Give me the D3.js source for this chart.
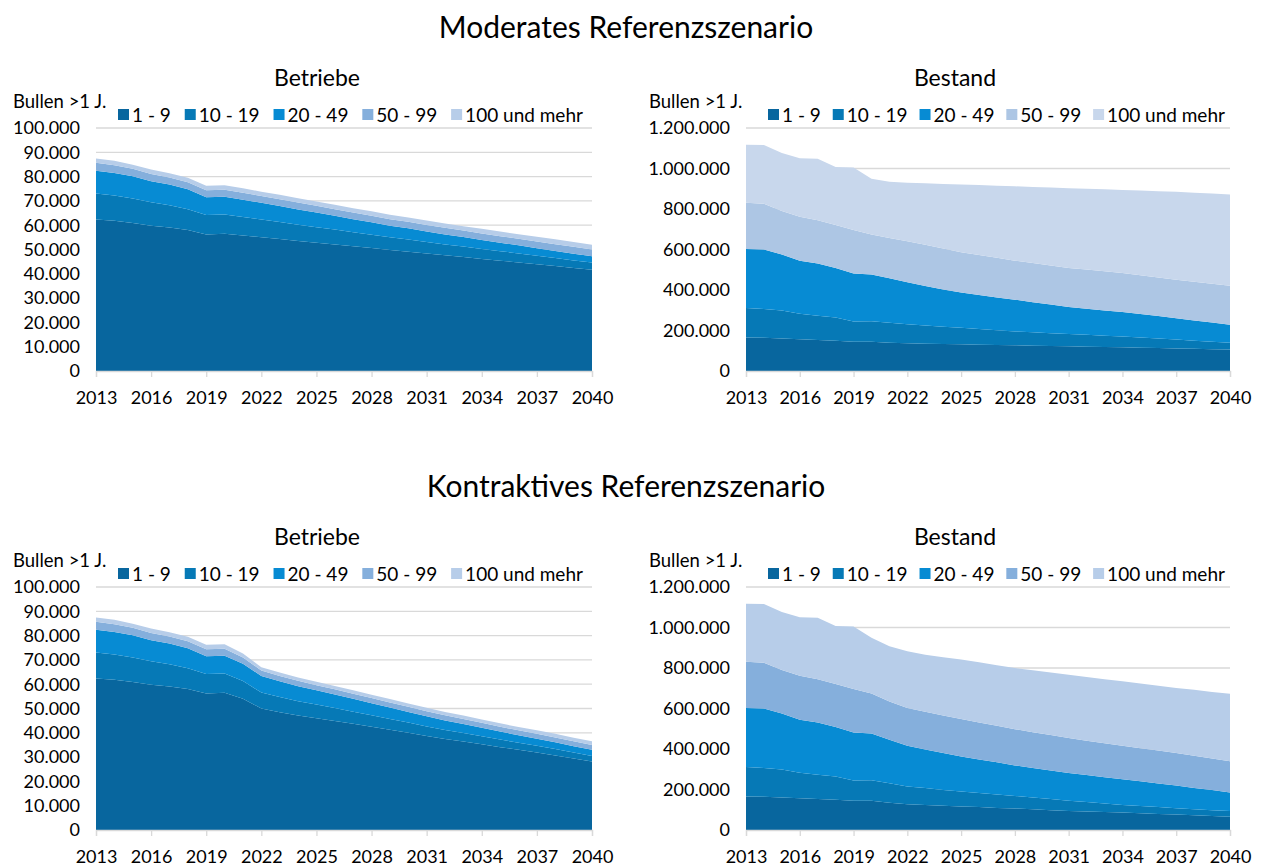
<!DOCTYPE html>
<html>
<head>
<meta charset="utf-8">
<style>
body { margin: 0; background: #fff; }
svg { display: block; font-family: Lato, "Open Sans", sans-serif; }
</style>
<script src="https://cdn.jsdelivr.net/npm/d3@7"></script>
</head>
<body>
<svg id="chart" width="1264" height="866"></svg>
<script>
// categories
var years = [2013,2014,2015,2016,2017,2018,2019,2020,2021,2022,2023,2024,2025,2026,
             2027,2028,2029,2030,2031,2032,2033,2034,2035,2036,2037,2038,2039,2040];
var groups = ["1 - 9", "10 - 19", "20 - 49", "50 - 99", "100 und mehr"];
var xTicks = [2013,2016,2019,2022,2025,2028,2031,2034,2037,2040];

// Betriebe, moderates Szenario (Anzahl)
var betriebeMod_1_9   = [62300,61800,60900,59800,59100,58000,56200,56500,55800,55000,54300,53500,52800,52100,51300,50600,49800,49100,48400,47600,46900,46100,45400,44700,43900,43200,42400,41700];
var betriebeMod_10_19 = [10700,10400,10100,9600,9100,8600,8000,7900,7600,7300,7000,6700,6400,6100,5800,5500,5200,5000,4700,4500,4300,4100,3900,3700,3500,3300,3100,2900];
var betriebeMod_20_49 = [9400,9300,9100,8700,8500,8200,7300,7300,7100,6900,6600,6300,6000,5700,5400,5100,4800,4600,4300,4100,3900,3700,3500,3300,3100,2900,2800,2600];
var betriebeMod_50_99 = [3300,3200,3100,3000,2900,2900,2900,2900,2900,2800,2800,2800,2800,2700,2700,2700,2700,2700,2700,2700,2700,2700,2700,2700,2800,2800,2800,2800];
var betriebeMod_100   = [1800,1800,1700,1800,1800,1800,1800,1800,1800,1800,1800,1800,1800,1800,1800,1800,1800,1800,1800,1800,1800,1900,1900,1900,1900,2000,2000,2000];

// Betriebe, kontraktives Szenario
var betriebeKon_1_9   = [62300,61800,60900,59800,59100,58000,56200,56500,54000,50000,48500,47100,46000,44900,43700,42500,41300,40000,38700,37500,36400,35300,34100,33000,31900,30700,29400,28200];
var betriebeKon_10_19 = [10700,10400,10100,9600,9100,8600,8000,7900,7300,6600,6200,5900,5600,5300,5000,4700,4400,4200,3900,3700,3500,3300,3100,2900,2800,2600,2500,2300];
var betriebeKon_20_49 = [9400,9300,9100,8700,8500,8200,7300,7300,7100,6800,6500,6200,5900,5600,5300,5000,4700,4400,4200,3900,3700,3500,3300,3100,2900,2800,2600,2500];
var betriebeKon_50_99 = [3300,3200,3100,3000,2900,2900,2900,2900,2600,2200,2200,2200,2100,2100,2100,2100,2100,2100,2100,2100,2100,2000,2000,2000,2000,2000,2000,2000];
var betriebeKon_100   = [1800,1800,1700,1800,1800,1800,1800,1800,1600,1400,1400,1400,1400,1400,1400,1400,1400,1400,1400,1400,1400,1400,1400,1400,1400,1500,1500,1500];

// Bestand, moderates Szenario (Bullen)
var bestandMod_1_9   = [165000,164000,161000,157000,153000,149000,144000,144000,140000,137000,135000,133000,132000,130000,128000,127000,125000,124000,122000,120000,119000,117000,115000,113000,111000,110000,108000,106000];
var bestandMod_10_19 = [146000,142000,138000,126000,120000,115000,101000,102000,98000,94000,90000,86000,81000,77000,73000,68000,66000,63000,61000,59000,55000,53000,50000,47000,44000,40000,37000,34000];
var bestandMod_20_49 = [292000,294000,276000,261000,258000,245000,236000,230000,220000,207000,195000,184000,175000,168000,162000,157000,149000,141000,133000,129000,125000,121000,116000,111000,106000,100000,94000,88000];
var bestandMod_50_99 = [228000,226000,215000,218000,214000,212000,215000,198000,199000,203000,203000,202000,199000,198000,196000,193000,193000,193000,193000,193000,193000,193000,192000,191000,190000,191000,192000,193000];
var bestandMod_100   = [286000,290000,286000,289000,303000,287000,309000,276000,277000,289000,304000,319000,334000,345000,356000,367000,376000,385000,394000,399000,405000,410000,418000,426000,434000,439000,445000,450000];

// Bestand, kontraktives Szenario
var bestandKon_1_9   = [165000,164000,161000,157000,153000,149000,144000,144000,134000,127000,123000,120000,116000,113000,109000,106000,102000,98000,94000,91000,89000,86000,83000,79000,76000,73000,69000,66000];
var bestandKon_10_19 = [146000,142000,138000,126000,120000,115000,101000,102000,97000,88000,84000,78000,74000,70000,66000,62000,58000,55000,51000,47000,42000,38000,35000,34000,31000,30000,29000,28000];
var bestandKon_20_49 = [292000,294000,276000,261000,258000,245000,236000,230000,215000,201000,191000,182000,173000,165000,159000,151000,146000,141000,136000,133000,130000,127000,123000,117000,113000,105000,99000,91000];
var bestandKon_50_99 = [228000,226000,215000,218000,214000,212000,215000,198000,189000,186000,186000,186000,185000,183000,181000,179000,177000,175000,173000,170000,168000,165000,163000,162000,160000,159000,156000,155000];
var bestandKon_100   = [286000,290000,286000,289000,303000,287000,309000,276000,273000,281000,282000,287000,294000,297000,299000,302000,306000,309000,313000,315000,316000,318000,319000,320000,321000,325000,329000,333000];

var colorsMain  = ["#08669e", "#0679b6", "#078bd3", "#85afdc", "#b7cde9"];
var colorsLight = ["#08669e", "#0679b6", "#078bd3", "#adc6e4", "#c8d7ec"];

var de = d3.formatLocale({decimal: ",", thousands: ".", grouping: [3], currency: ["", " €"]});
var fmt = de.format(",d");

var svg = d3.select("#chart");

function panel(opt) {
  var g = svg.append("g");
  var series = opt.series;
  var table = years.map(function(y, i) {
    var row = {year: y};
    groups.forEach(function(k, j) { row[k] = series[j][i]; });
    return row;
  });
  var stack = d3.stack().keys(groups)(table);

  var x = d3.scaleLinear().domain([2013, 2040]).range([opt.left, opt.right]);
  var y = d3.scaleLinear().domain([0, opt.max]).range([opt.bottom, opt.top]);

  // gridlines
  var yTicks = d3.range(0, opt.max + 1, opt.step);
  g.append("g").selectAll("line").data(yTicks.filter(function(d){ return d > 0; }))
    .join("line")
      .attr("x1", opt.left).attr("x2", opt.right)
      .attr("y1", function(d){ return y(d); }).attr("y2", function(d){ return y(d); })
      .attr("stroke", "#d9d9d9").attr("stroke-width", 1.3);

  var area = d3.area()
    .x(function(d){ return x(d.data.year); })
    .y0(function(d){ return y(d[0]); })
    .y1(function(d){ return y(d[1]); });

  g.append("g").selectAll("path").data(stack).join("path")
    .attr("d", area)
    .attr("fill", function(d, i){ return opt.colors[i]; });

  // y axis labels
  g.append("g").selectAll("text").data(yTicks).join("text")
    .attr("x", opt.left - 16).attr("y", function(d){ return y(d); })
    .attr("dy", "0.35em").attr("text-anchor", "end")
    .attr("font-size", 18).attr("fill", "#000")
    .text(function(d){ return fmt(d); });

  // x axis
  var xa = g.append("g").attr("transform", "translate(0," + opt.bottom + ")")
    .call(d3.axisBottom(x).tickValues(xTicks).tickFormat(d3.format("d")).tickSize(6).tickPadding(14));
  xa.attr("font-family", null).attr("font-size", null);
  xa.select(".domain").attr("stroke", "#d9d9d9").attr("stroke-width", 1.3);
  xa.selectAll(".tick line").attr("stroke", "#d9d9d9").attr("stroke-width", 1.3);
  xa.selectAll(".tick text").attr("font-size", 18).attr("fill", "#000");

  // titles
  g.append("text").attr("x", opt.titleX).attr("y", opt.top - 50).attr("dy", "0.35em")
    .attr("text-anchor", "middle").attr("font-size", 23).text(opt.title);
  g.append("text").attr("x", opt.unitX).attr("y", opt.top - 26).attr("dy", "0.35em")
    .attr("font-size", 18.5).text("Bullen >1 J.");

  // legend
  var lg = g.append("g");
  var items = lg.selectAll("g").data(groups).join("g");
  items.append("rect").attr("width", 11).attr("height", 11)
    .attr("y", opt.top - 19).attr("fill", function(d, i){ return opt.colors[i]; });
  items.append("text").attr("x", 14).attr("y", opt.top - 13).attr("dy", "0.35em")
    .attr("font-size", 19).text(function(d){ return d; });
  var widths = [];
  items.each(function(){ widths.push(this.getBBox().width); });
  var total = d3.sum(widths);
  var gap = (opt.legendEnd - opt.legendStart - total) / (groups.length - 1);
  var pos = opt.legendStart;
  items.attr("transform", function(d, i){
    var t = "translate(" + pos + ",0)";
    pos += widths[i] + gap;
    return t;
  });
}

function heading(text, yPos) {
  svg.append("text").attr("x", 626).attr("y", yPos).attr("dy", "0.35em")
    .attr("text-anchor", "middle").attr("font-size", 30).text(text);
}

heading("Moderates Referenzszenario", 27);
heading("Kontraktives Referenzszenario", 486);

var rows = [
  {top: 128, bottom: 371,
   betriebe: [betriebeMod_1_9, betriebeMod_10_19, betriebeMod_20_49, betriebeMod_50_99, betriebeMod_100],
   bestand:  [bestandMod_1_9, bestandMod_10_19, bestandMod_20_49, bestandMod_50_99, bestandMod_100],
   bestandColors: colorsLight},
  {top: 587, bottom: 830,
   betriebe: [betriebeKon_1_9, betriebeKon_10_19, betriebeKon_20_49, betriebeKon_50_99, betriebeKon_100],
   bestand:  [bestandKon_1_9, bestandKon_10_19, bestandKon_20_49, bestandKon_50_99, bestandKon_100],
   bestandColors: colorsMain}
];

rows.forEach(function(r) {
  panel({left: 96, right: 592, top: r.top, bottom: r.bottom, max: 100000, step: 10000,
         series: r.betriebe, colors: colorsMain, title: "Betriebe", titleX: 317, unitX: 13,
         legendStart: 118, legendEnd: 583});
  panel({left: 746, right: 1230, top: r.top, bottom: r.bottom, max: 1200000, step: 200000,
         series: r.bestand, colors: r.bestandColors, title: "Bestand", titleX: 955, unitX: 649,
         legendStart: 768, legendEnd: 1225});
});
</script>
</body>
</html>
